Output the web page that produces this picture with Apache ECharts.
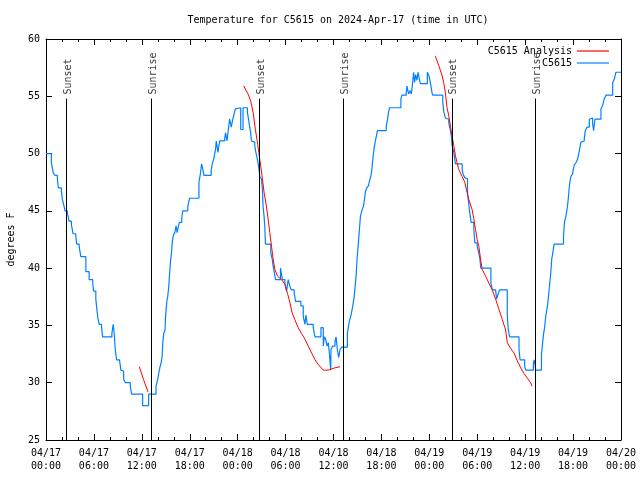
<!DOCTYPE html>
<html>
<head>
<meta charset="utf-8">
<script src="https://cdn.jsdelivr.net/npm/echarts@6/dist/echarts.min.js"></script>
<style>html,body{margin:0;padding:0;background:#fff}#c{width:640px;height:480px}</style>
</head>
<body>
<div id="c"></div>
<script>
// Hours since 2024-04-17 00:00 UTC
const xTickLabels = ['04/17\n00:00','04/17\n06:00','04/17\n12:00','04/17\n18:00','04/18\n00:00','04/18\n06:00','04/18\n12:00','04/18\n18:00','04/19\n00:00','04/19\n06:00','04/19\n12:00','04/19\n18:00','04/20\n00:00'];

// Observed C5615 temperature (change points: hour, degrees F)
const obsHours = [0,0.67,0.92,1.13,1.42,1.55,1.93,2.05,2.26,2.39,2.68,2.89,3.18,3.39,3.73,3.85,4.15,4.36,4.99,5.40,5.85,5.95,6.24,6.37,6.53,6.66,6.95,7.08,8.25,8.42,8.54,8.67,8.84,9.2,9.38,9.55,9.72,9.93,10.55,10.72,12.1,12.85,
13.78,13.99,14.11,14.28,14.41,14.54,14.62,14.74,14.91,14.95,15.04,15.16,15.24,15.37,15.46,15.58,15.71,15.83,15.96,16.13,16.29,16.42,16.59,16.71,17.0,17.13,17.76,17.97,19.15,19.35,19.48,19.65,19.77,20.69,20.82,20.99,21.24,21.32,21.53,21.74,22.37,22.49,22.66,22.83,23.0,23.2,23.33,23.5,23.71,23.83,24.38,24.67,
25.22,25.38,25.51,25.63,25.72,25.93,26.14,26.26,26.47,26.64,26.77,26.97,27.1,27.18,27.31,27.39,27.48,28.15,28.32,28.44,28.57,28.73,29.36,29.6,29.91,30.12,30.33,30.54,30.74,31.08,31.25,31.92,32.21,32.42,32.55,32.71,33.46,33.68,34.43,34.72,34.85,35.02,35.19,35.35,35.48,35.65,
35.69,35.9,36.19,36.32,36.48,36.65,36.82,37.03,37.74,37.87,37.99,38.16,38.28,38.41,38.58,38.7,38.83,38.95,39.08,39.25,39.37,39.54,39.75,39.88,40.0,40.17,40.38,40.5,40.67,40.8,40.92,41.09,41.3,41.51,42.6,42.77,42.89,43.02,44.44,44.57,45.11,45.2,45.4,45.61,45.74,45.9,46.03,46.16,46.28,46.45,46.58,46.75,46.87,47.75,47.95,48.13,48.34,48.42,
49.68,49.8,50.01,50.22,50.43,50.64,50.77,50.85,51.06,51.27,52.11,52.23,52.44,52.65,52.78,52.94,53.07,53.24,53.57,53.7,53.99,54.2,54.33,54.45,55.71,55.88,56.3,56.42,56.59,56.8,57.76,57.89,58.05,59.23,59.36,59.94,60.07,61.03,61.11,61.24,61.32,
62.04,62.16,62.29,62.45,62.58,62.79,62.92,63.04,63.21,63.33,63.5,63.62,64.8,64.92,65.09,65.3,65.43,65.55,65.72,65.93,66.14,66.35,66.56,66.77,66.98,67.19,67.4,67.53,67.74,68.03,68.24,68.45,68.57,68.74,69.49,69.7,69.91,70.12,70.96,71.17,71.37,72.0];
const obsTemps = [50.0,49.2,48.3,48.1,47.8,47.0,46.7,46.0,45.4,45.0,44.8,44.1,43.8,43.0,42.8,42.1,41.9,41.0,39.7,39.0,38.7,38.0,37.3,36.4,35.5,35.1,34.9,34.0,34.3,35.1,34.3,32.9,32.0,31.9,31.1,31.0,30.3,30.0,29.7,29.0,28.0,29.0,
29.7,30.3,30.8,31.4,31.7,32.3,33.5,34.3,34.6,35.5,36.4,37.3,37.5,38.4,39.3,40.5,41.3,42.4,42.9,43.1,43.7,43.1,43.7,44.0,44.4,45.0,45.4,46.1,47.5,48.3,49.1,48.6,48.1,48.6,49.1,49.5,50.4,51.1,50.1,51.1,51.3,51.8,51.1,52.1,53.0,52.3,52.8,53.3,53.9,54.0,52.1,54.0,
53.6,52.9,52.3,51.8,51.1,51.0,50.7,50.2,49.5,48.8,48.0,47.8,46.9,45.4,44.5,43.7,42.1,41.3,40.8,40.2,39.7,39.0,40.0,39.0,38.7,38.0,39.0,38.4,38.1,37.8,37.1,36.7,35.8,35.1,35.9,35.1,34.8,34.0,34.8,33.2,34.0,33.8,33.2,33.5,32.6,31.1,
32.9,33.2,33.6,34.0,32.9,32.2,32.9,33.1,34.3,34.9,35.4,35.8,36.2,36.7,37.4,38.4,39.3,40.8,41.9,43.4,44.5,45.0,45.4,46.0,46.7,47.0,47.2,47.6,48.0,48.6,49.5,50.5,51.3,52.0,52.4,53.0,53.6,54.0,54.8,55.1,55.3,55.9,55.2,55.5,55.2,56.1,57.1,56.2,56.9,56.4,57.1,56.5,56.1,57.1,56.8,56.2,55.3,55.1,
54.5,53.7,53.1,53.0,52.7,52.0,51.4,50.7,50.1,49.1,48.6,48.2,47.9,47.8,46.6,45.6,44.8,44.0,43.4,42.2,41.9,41.3,40.8,40.0,38.7,38.1,38.0,37.3,37.7,38.1,35.8,34.6,34.0,32.9,32.0,31.4,31.1,31.6,32.0,31.6,31.1,
32.4,33.3,34.2,34.9,35.8,36.7,37.5,38.4,39.6,40.8,41.5,42.1,42.8,44.0,44.5,45.4,46.3,47.3,48.0,48.2,49.0,49.2,49.5,50.2,51.0,51.1,51.3,52.0,52.3,53.0,53.1,52.6,52.0,53.0,53.9,54.2,54.8,55.1,56.2,56.5,57.1,57.1];

// Analysis curve (three evening segments, null = gap)
const anaHours = [11.69,12.2,12.78,null,
24.75,25.3,25.63,25.93,26.22,26.47,26.64,26.89,27.1,27.31,27.6,27.81,28.02,28.24,28.44,28.65,28.99,29.49,29.91,30.24,30.54,30.82,31.16,31.58,32.0,32.42,32.84,33.26,33.68,34.09,34.72,35.35,36.19,36.82,null,
48.76,49.17,49.6,49.8,50.01,50.22,50.43,50.64,50.85,51.06,51.27,51.48,51.69,52.11,52.44,52.73,52.94,53.36,53.57,53.78,53.99,54.2,54.41,54.62,55.04,55.45,55.88,56.3,56.72,57.14,57.55,57.76,58.18,58.6,59.02,59.44,59.86,60.27,60.69,60.85];
const anaTemps = [31.4,30.3,29.2,null,
55.9,55.2,54.6,53.6,52.1,51.0,50.1,48.9,47.8,46.6,45.4,44.3,43.1,41.9,40.8,39.9,39.3,39.0,38.6,37.8,37.0,36.1,35.5,34.8,34.3,33.8,33.2,32.6,32.0,31.6,31.1,31.1,31.3,31.4,null,
58.5,57.7,56.8,56.2,55.3,54.0,53.3,52.4,51.5,50.7,49.8,49.2,48.6,48.0,47.5,46.6,46.0,45.1,44.3,43.4,42.5,41.9,40.8,39.9,39.3,38.7,38.1,37.3,36.4,35.5,34.6,33.5,33.0,32.6,31.9,31.3,30.8,30.4,30.0,29.7];

const sunHours = [2.55,13.15,26.68,37.24,50.81,61.24];
const sunNames = ['Sunset','Sunrise','Sunset','Sunrise','Sunset','Sunrise'];
const sunLineTop = 54.8;

const FONT = 'DejaVu Sans Mono';
const obsData = obsHours.map((h,i)=>[h,obsTemps[i]]);
const anaData = anaHours.map((h,i)=> h===null ? [null,null] : [h,anaTemps[i]]);
const sunData = sunHours.map((h,i)=>({value:[h,sunLineTop], name:sunNames[i]}));
const sunLines = sunHours.map(h=>[{coord:[h,25]},{coord:[h,sunLineTop]}]);

const chart = echarts.init(document.getElementById('c'), null, {renderer:'canvas'});
const axisCommon = {
  axisLine:{show:true,onZero:false,lineStyle:{color:'#000',width:1}},
  axisTick:{show:true,inside:true,length:6,lineStyle:{color:'#000'}},
  splitLine:{show:false}
};
chart.setOption({
  animation:false,
  backgroundColor:'#fff',
  textStyle:{fontFamily:FONT},
  title:{text:'Temperature for C5615 on 2024-Apr-17 (time in UTC)',left:333,top:10,textAlign:'center',
    textStyle:{fontFamily:FONT,fontSize:10,fontWeight:'normal',color:'#000'}},
  legend:{data:[{name:'C5615 Analysis'},{name:'C5615'}],orient:'vertical',align:'right',right:26,top:40,
    icon:'rect',itemWidth:32,itemHeight:1.2,itemGap:0,
    textStyle:{fontFamily:FONT,fontSize:10,color:'#000',lineHeight:12}},
  grid:{left:46,right:19,top:39,bottom:40,containLabel:false,outerBoundsMode:'none'},
  xAxis:[
    Object.assign({type:'value',min:0,max:72,interval:6,position:'bottom',
      axisLabel:{margin:7,fontFamily:FONT,fontSize:10,color:'#000',lineHeight:13,
        formatter:v=>xTickLabels[Math.round(v/6)]},
      minorTick:{show:true,splitNumber:3,length:3,lineStyle:{color:'#000'}}},axisCommon),
    Object.assign({type:'value',min:0,max:72,interval:6,position:'top',axisLabel:{show:false},
      minorTick:{show:true,splitNumber:3,length:3,lineStyle:{color:'#000'}}},axisCommon)
  ],
  yAxis:[
    Object.assign({type:'value',min:25,max:60,interval:5,position:'left',
      name:'degrees F',nameLocation:'middle',nameGap:30,nameRotate:90,
      nameTextStyle:{fontFamily:FONT,fontSize:10,color:'#000'},
      axisLabel:{margin:6,fontFamily:FONT,fontSize:10,color:'#000'}},axisCommon),
    Object.assign({type:'value',min:25,max:60,interval:5,position:'right',axisLabel:{show:false}},axisCommon)
  ],
  series:[
    {name:'C5615',type:'line',data:obsData,step:'end',showSymbol:false,symbol:'none',
      lineStyle:{color:'#0080ff',width:1.2},itemStyle:{color:'#0080ff'},z:2},
    {name:'C5615 Analysis',type:'line',data:anaData,connectNulls:false,showSymbol:false,symbol:'none',
      lineStyle:{color:'#ff0000',width:1},itemStyle:{color:'#ff0000'},z:3},
    {name:'sun',type:'scatter',data:sunData,symbolSize:0,silent:true,z:1,
      label:{show:true,formatter:p=>p.name,position:'top',distance:6,rotate:90,align:'left',verticalAlign:'middle',
        offset:[-2,2],fontFamily:FONT,fontSize:10,color:'#000'},
      markLine:{silent:true,symbol:['none','none'],label:{show:false},
        lineStyle:{color:'#000',width:1,type:'solid'},data:sunLines}}
  ]
});
</script>
</body>
</html>
